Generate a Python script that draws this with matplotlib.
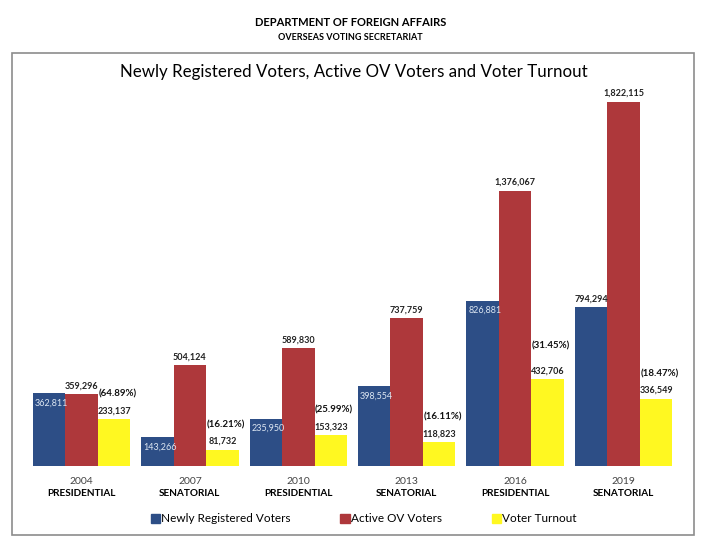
import matplotlib.pyplot as plt
from matplotlib.patches import Rectangle, Patch
import numpy as np

plt.rcParams['font.family'] = ['Lato', 'DejaVu Sans']

# Données
annees = ["2004", "2007", "2010", "2013", "2016", "2019"]
types = ["PRESIDENTIAL", "SENATORIAL", "PRESIDENTIAL", "SENATORIAL", "PRESIDENTIAL", "SENATORIAL"]
nouveaux = [362811, 143266, 235950, 398554, 826881, 794294]
actifs = [359296, 504124, 589830, 737759, 1376067, 1822115]
participation = [233137, 81732, 153323, 118823, 432706, 336549]
pourcentages = ["(64.89%)", "(16.21%)", "(25.99%)", "(16.11%)", "(31.45%)", "(18.47%)"]

BLEU = "#2D4E86"
ROUGE = "#AE383B"
JAUNE = "#FFF821"

fig = plt.figure(figsize=(7.05, 5.53), dpi=100)

# cadre gris autour du graphique
fig.patches.append(Rectangle((12 / 705, 1 - 535 / 553), 682 / 705, 482 / 553,
                             transform=fig.transFigure, fill=False,
                             edgecolor="#8c8c8c", lw=1.2))

fig.text(0.497, 1 - 22 / 553, "DEPARTMENT OF FOREIGN AFFAIRS", ha="center", va="center",
         fontsize=8, fontweight="bold")
fig.text(0.497, 1 - 37 / 553, "OVERSEAS VOTING SECRETARIAT", ha="center", va="center",
         fontsize=6.5, fontweight="bold")
fig.text(0.502, 1 - 72 / 553, "Newly Registered Voters, Active OV Voters and Voter Turnout",
         ha="center", va="center", fontsize=12.2)

ax = fig.add_axes([0.0387, 87 / 553, 0.9226, 380 / 553])
x = np.arange(len(annees))
w = 0.3
ax.bar(x - w, nouveaux, w, color=BLEU)
ax.bar(x, actifs, w, color=ROUGE)
ax.bar(x + w, participation, w, color=JAUNE)

ax.set_xlim(-0.5, 5.5)
ax.set_ylim(0, 1.9e6)
ax.axis("off")

for i in range(len(annees)):
    # nouveaux inscrits : dans la barre sauf 2019
    if i == 5:
        ax.annotate(f"{nouveaux[i]:,}", (x[i] - w, nouveaux[i]), xytext=(0, 6),
                    textcoords="offset points", ha="center", va="center",
                    fontsize=6.5, fontweight="bold", color="#222222")
    else:
        ax.annotate(f"{nouveaux[i]:,}", (x[i] - 1.5 * w, nouveaux[i]), xytext=(1.5, -7),
                    textcoords="offset points", ha="left", va="center",
                    fontsize=6.5, color="#dce6f2")
    ax.annotate(f"{actifs[i]:,}", (x[i], actifs[i]), xytext=(0, 6),
                textcoords="offset points", ha="center", va="center",
                fontsize=6.5, fontweight="bold", color="#222222")
    ax.annotate(f"{participation[i]:,}", (x[i] + w, participation[i]), xytext=(0, 6),
                textcoords="offset points", ha="center", va="center",
                fontsize=6.5, fontweight="bold", color="#222222")
    dy = 24 if i == 4 else 18
    ax.annotate(pourcentages[i], (x[i] + w + 0.03, participation[i]), xytext=(0, dy),
                textcoords="offset points", ha="center", va="center",
                fontsize=7, fontweight="bold", color="#111111")
    ax.text(x[i], -0.042, annees[i], transform=ax.get_xaxis_transform(),
            ha="center", va="center", fontsize=7.5, color="#444444")
    ax.text(x[i], -0.072, types[i], transform=ax.get_xaxis_transform(),
            ha="center", va="center", fontsize=7.2, fontweight="bold")

poignees = [Patch(color=BLEU, label="Newly Registered Voters"),
            Patch(color=ROUGE, label="Active OV Voters"),
            Patch(color=JAUNE, label="Voter Turnout")]
fig.legend(handles=poignees, loc="center", bbox_to_anchor=(0.516, 1 - 519 / 553), ncol=3,
           frameon=False, fontsize=8.5, handlelength=0.8, handleheight=0.8,
           handletextpad=0.1, columnspacing=4.2)

fig.savefig("out.png", dpi=100)
